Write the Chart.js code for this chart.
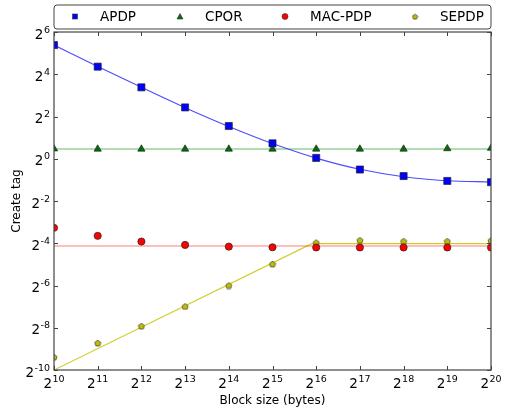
<!DOCTYPE html>
<html>
<head>
<meta charset="utf-8">
<script src="https://cdn.jsdelivr.net/npm/chart.js@4.4.1/dist/chart.umd.min.js"></script>
<style>
html,body{margin:0;padding:0;background:#fff;}
#wrap{position:relative;width:505px;height:412px;}
</style>
</head>
<body>
<div id="wrap"><canvas id="c" width="505" height="412"></canvas></div>
<script>
// Block size exponents (bytes = 2^x)
const blockExp = [10, 11, 12, 13, 14, 15, 16, 17, 18, 19, 20];
// Measured "Create tag" values, as log2 exponents
const apdpLog2  = [5.38, 4.36, 3.38, 2.43, 1.55, 0.73, 0.04, -0.51, -0.82, -1.05, -1.11];
const cporLog2  = [0.47, 0.46, 0.46, 0.46, 0.46, 0.46, 0.46, 0.46, 0.46, 0.48, 0.50];
const macLog2   = [-3.27, -3.65, -3.92, -4.08, -4.16, -4.19, -4.20, -4.20, -4.20, -4.20, -4.20];
const sepdpLog2 = [-9.39, -8.72, -7.92, -6.99, -6.00, -4.98, -3.97, -3.86, -3.90, -3.90, -3.87];
// Fitted curves (log2)
const apdpFitX  = [10, 11, 12, 13, 14, 15, 16, 17, 18, 19, 20];
const apdpFitY  = [5.38, 4.37, 3.38, 2.42, 1.53, 0.72, 0.03, -0.50, -0.85, -1.04, -1.10];
const cporFitX  = [10, 20];
const cporFitY  = [0.46, 0.46];
const macFitX   = [10, 20];
const macFitY   = [-4.13, -4.13];
const sepdpFitX = [10, 15.9, 20];
const sepdpFitY = [-10, -4.02, -4.02];
// Tick exponents (labels are 2^n)
const xTicks = [10, 11, 12, 13, 14, 15, 16, 17, 18, 19, 20];
const yTicks = [-10, -8, -6, -4, -2, 0, 2, 4, 6];
const seriesLabels = ['APDP', 'CPOR', 'MAC-PDP', 'SEPDP'];

const SUP = {'0':'⁰','1':'¹','2':'²','3':'³','4':'⁴','5':'⁵','6':'⁶','7':'⁷','8':'⁸','9':'⁹','-':'⁻'};
function pow2Label(v){ return '2' + String(v).split('').map(ch => SUP[ch] || ch).join(''); }
const pts = (xs, ys) => xs.map((x, i) => ({x: x, y: ys[i]}));

function makePentagon(size, fill, stroke){
  const cv = document.createElement('canvas');
  cv.width = size; cv.height = size;
  const g = cv.getContext('2d');
  const cx = size/2, cy = size/2 + 0.4, r = size/2 - 0.8;
  g.beginPath();
  for (let i = 0; i < 5; i++){
    const a = -Math.PI/2 + i * 2*Math.PI/5;
    const px = cx + r*Math.cos(a), py = cy + r*Math.sin(a);
    if (i === 0) g.moveTo(px, py); else g.lineTo(px, py);
  }
  g.closePath();
  g.fillStyle = fill; g.fill();
  g.lineWidth = 0.7; g.strokeStyle = stroke; g.stroke();
  return cv;
}
const pent = makePentagon(8, '#bfbf00', '#333');
const pentLegend = makePentagon(7, '#bfbf00', '#333');

const FONT = "'DejaVu Sans', 'Liberation Sans', sans-serif";
const FRAME = '#444';
const BASE_FONT = '13.5px ' + FONT;
const EXP_FONT = '9.5px ' + FONT;

function drawPow(ctx, v, x, baseY, align){
  const e = String(v);
  ctx.font = BASE_FONT; const wb = ctx.measureText('2').width;
  ctx.font = EXP_FONT; const we = ctx.measureText(e).width;
  const total = wb + we + 0.5;
  let x0 = align === 'right' ? x - total : x - total / 2;
  ctx.textAlign = 'left'; ctx.textBaseline = 'alphabetic';
  ctx.font = BASE_FONT; ctx.fillText('2', x0, baseY);
  ctx.font = EXP_FONT; ctx.fillText(e, x0 + wb + 0.5, baseY - 6);
}

const framePlugin = {
  id: 'frame',
  afterDatasetsDraw(chart){
    const {ctx, chartArea: a, scales} = chart;
    ctx.save();
    ctx.strokeStyle = FRAME;
    ctx.lineWidth = 1.2;
    ctx.strokeRect(a.left, a.top, a.right - a.left, a.bottom - a.top);
    ctx.lineWidth = 1;
    ctx.beginPath();
    const tl = 4;
    scales.x.ticks.forEach(t => {
      const px = Math.round(scales.x.getPixelForValue(t.value)) + 0.5;
      ctx.moveTo(px, a.bottom); ctx.lineTo(px, a.bottom - tl);
      ctx.moveTo(px, a.top); ctx.lineTo(px, a.top + tl);
    });
    scales.y.ticks.forEach(t => {
      const py = Math.round(scales.y.getPixelForValue(t.value)) + 0.5;
      ctx.moveTo(a.left, py); ctx.lineTo(a.left + tl, py);
      ctx.moveTo(a.right, py); ctx.lineTo(a.right - tl, py);
    });
    ctx.stroke();
    ctx.restore();
  },
  afterDraw(chart){
    const {ctx, chartArea: a, scales} = chart;
    ctx.save();
    // tick labels as 2^n with raised exponent
    ctx.fillStyle = '#000';
    scales.x.ticks.forEach(t => {
      drawPow(ctx, t.value, scales.x.getPixelForValue(t.value), a.bottom + 18);
    });
    scales.y.ticks.forEach(t => {
      drawPow(ctx, t.value, a.left - 4, scales.y.getPixelForValue(t.value) + 6.5, 'right');
    });
    // legend box
    const x0 = a.left, y0 = 5, w = a.right - a.left, h = 24, r = 3;
    ctx.beginPath();
    ctx.moveTo(x0 + r, y0);
    ctx.lineTo(x0 + w - r, y0); ctx.quadraticCurveTo(x0 + w, y0, x0 + w, y0 + r);
    ctx.lineTo(x0 + w, y0 + h - r); ctx.quadraticCurveTo(x0 + w, y0 + h, x0 + w - r, y0 + h);
    ctx.lineTo(x0 + r, y0 + h); ctx.quadraticCurveTo(x0, y0 + h, x0, y0 + h - r);
    ctx.lineTo(x0, y0 + r); ctx.quadraticCurveTo(x0, y0, x0 + r, y0);
    ctx.closePath();
    ctx.fillStyle = '#fff'; ctx.fill();
    ctx.strokeStyle = FRAME; ctx.lineWidth = 1; ctx.stroke();
    const markerX = [75, 180, 285, 415];
    const cy = 16.5;
    ctx.font = '13.5px ' + FONT;
    ctx.textBaseline = 'middle';
    ctx.textAlign = 'left';
    seriesLabels.forEach((lab, i) => {
      const mx = markerX[i];
      ctx.lineWidth = 0.6; ctx.strokeStyle = '#333';
      if (i === 0){
        ctx.fillStyle = '#0000ff'; ctx.fillRect(mx - 2.5, cy - 2.5, 5, 5); ctx.strokeRect(mx - 2.5, cy - 2.5, 5, 5);
      } else if (i === 1){
        ctx.fillStyle = '#007000';
        ctx.beginPath(); ctx.moveTo(mx, cy - 3); ctx.lineTo(mx + 3, cy + 2.5); ctx.lineTo(mx - 3, cy + 2.5); ctx.closePath();
        ctx.fill(); ctx.stroke();
      } else if (i === 2){
        ctx.fillStyle = '#ff0000';
        ctx.beginPath(); ctx.arc(mx, cy, 3, 0, Math.PI*2); ctx.fill(); ctx.stroke();
      } else {
        ctx.drawImage(pentLegend, mx - 3.5, cy - 3.5);
      }
      ctx.fillStyle = '#000';
      ctx.fillText(lab, mx + 25, cy + 0.5);
    });
    ctx.restore();
  }
};

const markerDs = (label, data, style, color, radius) => ({
  label, data: pts(blockExp, data), showLine: false,
  pointStyle: style, pointRadius: radius, pointHoverRadius: radius,
  backgroundColor: color, borderColor: '#222', pointBorderWidth: 0.7, order: 0
});
const lineDs = (label, xs, ys, color, extra) => Object.assign({
  label, data: pts(xs, ys), showLine: true, pointRadius: 0,
  borderColor: color, borderWidth: 1.1, backgroundColor: color, fill: false, order: 1
}, extra || {});

new Chart(document.getElementById('c'), {
  type: 'scatter',
  data: {
    datasets: [
      lineDs('APDP fit', apdpFitX, apdpFitY, 'rgba(30,30,255,0.8)', {cubicInterpolationMode: 'monotone'}),
      lineDs('CPOR fit', cporFitX, cporFitY, 'rgba(0,140,0,0.6)'),
      lineDs('MAC-PDP fit', macFitX, macFitY, 'rgba(255,40,40,0.6)'),
      lineDs('SEPDP fit', sepdpFitX, sepdpFitY, 'rgba(200,195,0,0.85)'),
      markerDs(seriesLabels[0], apdpLog2, 'rect', '#0000ff', 5),
      markerDs(seriesLabels[1], cporLog2, 'triangle', '#007000', 4.2),
      markerDs(seriesLabels[2], macLog2, 'circle', '#ff0000', 3.6),
      markerDs(seriesLabels[3], sepdpLog2, pent, '#bfbf00', 3)
    ]
  },
  options: {
    responsive: false,
    animation: false,
    layout: {padding: {top: 32, right: 14, left: 10, bottom: 0}},
    plugins: {legend: {display: false}, tooltip: {enabled: false}},
    scales: {
      x: {
        type: 'linear', min: 10, max: 20,
        grid: {display: false, drawTicks: false}, border: {display: false},
        afterBuildTicks(s){ s.ticks = xTicks.map(v => ({value: v})); },
        afterFit(s){ s.height = 42; s.paddingLeft = 0; s.paddingRight = 0; },
        ticks: {
          autoSkip: false, maxRotation: 0, padding: 3, color: 'rgba(0,0,0,0)',
          font: {family: FONT, size: 13},
          callback: v => pow2Label(v)
        },
        title: {display: true, text: 'Block size (bytes)', color: '#000', font: {family: FONT, size: 12}, padding: {top: 0, bottom: 4}}
      },
      y: {
        type: 'linear', min: -10, max: 6,
        grid: {display: false, drawTicks: false}, border: {display: false},
        afterBuildTicks(s){ s.ticks = yTicks.map(v => ({value: v})); },
        afterFit(s){ s.width = 44; s.paddingTop = 0; s.paddingBottom = 0; },
        ticks: {
          autoSkip: false, padding: 4, color: 'rgba(0,0,0,0)',
          font: {family: FONT, size: 13},
          callback: v => pow2Label(v)
        },
        title: {display: true, text: 'Create tag', color: '#000', font: {family: FONT, size: 12}, padding: {top: 0, bottom: 0}}
      }
    }
  },
  plugins: [framePlugin]
});
</script>
</body>
</html>
